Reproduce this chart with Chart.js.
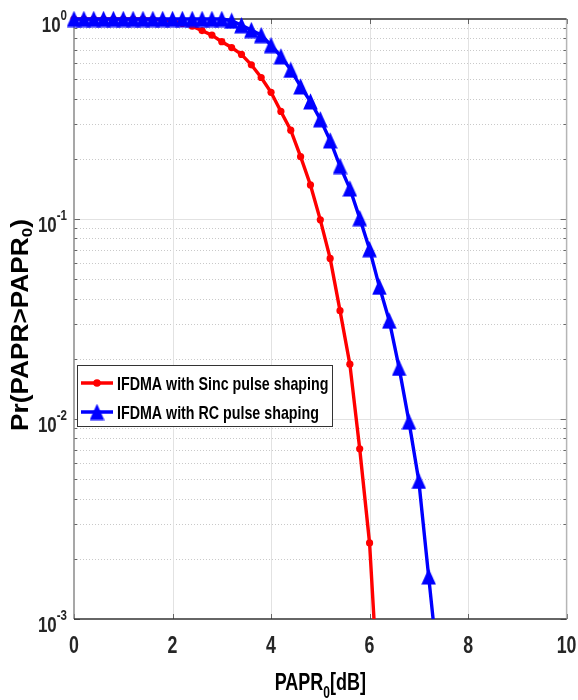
<!DOCTYPE html>
<html>
<head>
<meta charset="utf-8">
<script src="https://cdn.jsdelivr.net/npm/chart.js@4.4.0/dist/chart.umd.min.js"></script>
<style>
  html, body { margin: 0; padding: 0; background: #fff; }
  canvas { display: block; }
</style>
</head>
<body>
<canvas id="paprChart" width="578" height="700"></canvas>
<script>
// PAPR threshold in dB (x values, one per marker)
const paprDb = [0, 0.2, 0.4, 0.6, 0.8, 1.0, 1.2, 1.4, 1.6, 1.8,
                2.0, 2.2, 2.4, 2.6, 2.8, 3.0, 3.2, 3.4, 3.6, 3.8,
                4.0, 4.2, 4.4, 4.6, 4.8, 5.0, 5.2, 5.4, 5.6, 5.8,
                6.0, 6.2, 6.4, 6.6, 6.8, 7.0, 7.2, 7.4];

// CCDF
const sincCcdf = [1, 1, 1, 1, 1, 1, 1, 1, 0.997, 0.99,
                  0.98, 0.95, 0.92, 0.875, 0.83, 0.77, 0.72, 0.665, 0.59, 0.51,
                  0.43, 0.345, 0.278, 0.205, 0.148, 0.099, 0.0635, 0.0348, 0.0188, 0.0071,
                  0.0024, 0.00034];
const rcCcdf = [1, 1, 1, 1, 1, 1, 1, 1, 1, 1,
                1, 1, 1, 1, 1, 1, 0.98, 0.93, 0.88, 0.83,
                0.74, 0.65, 0.557, 0.46, 0.387, 0.315, 0.247, 0.184, 0.142, 0.101,
                0.0706, 0.0458, 0.031, 0.018, 0.0097, 0.0049, 0.00163, 0.00055];

const seriesNames = ['IFDMA with Sinc pulse shaping', 'IFDMA with RC pulse shaping'];
const xTicks = [0, 2, 4, 6, 8, 10];
const yExponents = [0, -1, -2, -3];

const RED = '#ff0000';
const BLUE = '#0000ff';

// tall triangle marker (the original figure is stretched vertically)
const triMarker = document.createElement('canvas');
triMarker.width = 15;
triMarker.height = 17;
(() => {
  const c = triMarker.getContext('2d');
  c.fillStyle = BLUE;
  c.beginPath();
  c.moveTo(7.5, 0.3);
  c.lineTo(14.8, 16.5);
  c.lineTo(0.2, 16.5);
  c.closePath();
  c.fill();
})();

function toPoints(values) {
  return values.map((v, i) => ({ x: paprDb[i], y: v }));
}

// draws runs of text with a horizontal squeeze, returns total width
function drawParts(ctx, parts, x, y, align, sx) {
  let total = 0;
  parts.forEach(p => { ctx.font = p.font; p.w = ctx.measureText(p.t).width * sx; total += p.w; });
  let cx = align === 'center' ? x - total / 2 : align === 'right' ? x - total : x;
  parts.forEach(p => {
    ctx.save();
    ctx.font = p.font;
    ctx.translate(cx, y + (p.dy || 0));
    ctx.scale(sx, 1);
    ctx.textAlign = 'left';
    ctx.textBaseline = 'alphabetic';
    ctx.fillText(p.t, 0, 0);
    ctx.restore();
    cx += p.w;
  });
  return total;
}

function hline(ctx, x1, x2, y) { ctx.beginPath(); ctx.moveTo(x1, y); ctx.lineTo(x2, y); ctx.stroke(); }
function vline(ctx, x, y1, y2) { ctx.beginPath(); ctx.moveTo(x, y1); ctx.lineTo(x, y2); ctx.stroke(); }

const FONT = '"Liberation Sans", Arial, sans-serif';

const matlabAxes = {
  id: 'matlabAxes',
  beforeDatasetsDraw(chart) {
    const { ctx, chartArea: a, scales: { x, y } } = chart;
    ctx.save();
    ctx.lineWidth = 1;

    // minor dotted grid
    ctx.setLineDash([1, 2]);
    ctx.strokeStyle = '#c9c9c9';
    yExponents.slice(1).forEach(e => {
      for (let m = 2; m <= 9; m++) {
        const py = Math.round(y.getPixelForValue(m * Math.pow(10, e))) + 0.5;
        hline(ctx, a.left, a.right, py);
      }
    });
    ctx.setLineDash([]);

    // major grid
    ctx.strokeStyle = '#e2e2e2';
    yExponents.slice(1, -1).forEach(e => {
      const py = Math.round(y.getPixelForValue(Math.pow(10, e))) + 0.5;
      hline(ctx, a.left, a.right, py);
    });
    xTicks.slice(1, -1).forEach(t => {
      const px = Math.round(x.getPixelForValue(t)) + 0.5;
      vline(ctx, px, a.top, a.bottom);
    });

    // tick marks
    ctx.strokeStyle = '#666';
    yExponents.slice(1).forEach(e => {
      for (let m = 1; m <= 9; m++) {
        const py = Math.round(y.getPixelForValue(m * Math.pow(10, e))) + 0.5;
        const len = m === 1 ? 6 : 3;
        hline(ctx, a.left, a.left + len, py);
        hline(ctx, a.right - len, a.right, py);
      }
    });
    xTicks.forEach(t => {
      const px = Math.round(x.getPixelForValue(t)) + 0.5;
      vline(ctx, px, a.bottom - 5, a.bottom);
      vline(ctx, px, a.top, a.top + 5);
    });

    // box
    ctx.lineWidth = 1.5;
    ctx.strokeStyle = '#8a8a8a';
    vline(ctx, a.left, a.top, a.bottom);
    ctx.strokeStyle = '#b5b5b5';
    vline(ctx, a.right, a.top, a.bottom);
    ctx.strokeStyle = '#333';
    hline(ctx, a.left, a.right, a.top);
    hline(ctx, a.left, a.right, a.bottom);

    // tick labels
    ctx.fillStyle = '#262626';
    yExponents.forEach(e => {
      const py = y.getPixelForValue(Math.pow(10, e));
      drawParts(ctx, [
        { t: '10', font: 'bold 22px ' + FONT },
        { t: String(e), font: 'bold 15px ' + FONT, dy: -12 }
      ], 67, py + 13, 'right', 0.77);
    });
    xTicks.forEach(t => {
      drawParts(ctx, [{ t: String(t), font: 'bold 24px ' + FONT }],
        x.getPixelForValue(t), 653, 'center', 0.74);
    });

    // axis titles
    ctx.fillStyle = '#000';
    drawParts(ctx, [
      { t: 'PAPR', font: 'bold 24px ' + FONT },
      { t: '0', font: 'bold 16px ' + FONT, dy: 8 },
      { t: '[dB]', font: 'bold 24px ' + FONT }
    ], (a.left + a.right) / 2, 690, 'center', 0.75);

    ctx.save();
    ctx.translate(28, (a.top + a.bottom) / 2 + 6);
    ctx.rotate(-Math.PI / 2);
    drawParts(ctx, [
      { t: 'Pr(PAPR>PAPR', font: 'bold 23px ' + FONT },
      { t: '0', font: 'bold 15px ' + FONT, dy: 4 },
      { t: ')', font: 'bold 23px ' + FONT }
    ], 0, 0, 'center', 1.14);
    ctx.restore();

    ctx.restore();
  },
  afterDatasetsDraw(chart) {
    const { ctx } = chart;
    ctx.save();
    // legend box
    ctx.fillStyle = '#fff';
    ctx.strokeStyle = '#333';
    ctx.lineWidth = 1;
    ctx.fillRect(77.5, 365.5, 255, 61);
    ctx.strokeRect(77.5, 365.5, 255, 61);

    const rows = [383, 412];
    // red sample
    ctx.strokeStyle = RED;
    ctx.lineWidth = 3.5;
    hline(ctx, 81, 113, rows[0]);
    ctx.fillStyle = RED;
    ctx.beginPath();
    ctx.arc(97, rows[0], 3.8, 0, Math.PI * 2);
    ctx.fill();
    // blue sample
    ctx.strokeStyle = BLUE;
    hline(ctx, 81, 113, rows[1]);
    ctx.drawImage(triMarker, 97 - triMarker.width / 2, rows[1] - triMarker.height / 2);

    ctx.fillStyle = '#000';
    seriesNames.forEach((name, i) => {
      drawParts(ctx, [{ t: name, font: 'bold 19px ' + FONT }], 117, rows[i] + 7, 'left', 0.75);
    });
    ctx.restore();
  }
};

new Chart(document.getElementById('paprChart'), {
  type: 'line',
  data: {
    datasets: [
      {
        label: seriesNames[0],
        data: toPoints(sincCcdf),
        borderColor: RED,
        backgroundColor: RED,
        borderWidth: 3.4,
        pointStyle: 'circle',
        pointRadius: 3.6,
        pointBorderWidth: 0,
        tension: 0,
        clip: { left: 10, top: 20, right: 10, bottom: 0 },
        order: 1
      },
      {
        label: seriesNames[1],
        data: toPoints(rcCcdf),
        borderColor: BLUE,
        backgroundColor: BLUE,
        borderWidth: 3.4,
        pointStyle: triMarker,
        pointRadius: 8,
        tension: 0,
        clip: { left: 10, top: 20, right: 10, bottom: 0 },
        order: 0
      }
    ]
  },
  options: {
    responsive: false,
    animation: false,
    devicePixelRatio: 1,
    layout: { padding: { left: 74, right: 10, top: 19, bottom: 81 } },
    plugins: {
      legend: { display: false },
      tooltip: { enabled: false }
    },
    scales: {
      x: { type: 'linear', min: 0, max: 10, display: false },
      y: { type: 'logarithmic', min: 0.001, max: 1, display: false }
    }
  },
  plugins: [matlabAxes]
});
</script>
</body>
</html>
